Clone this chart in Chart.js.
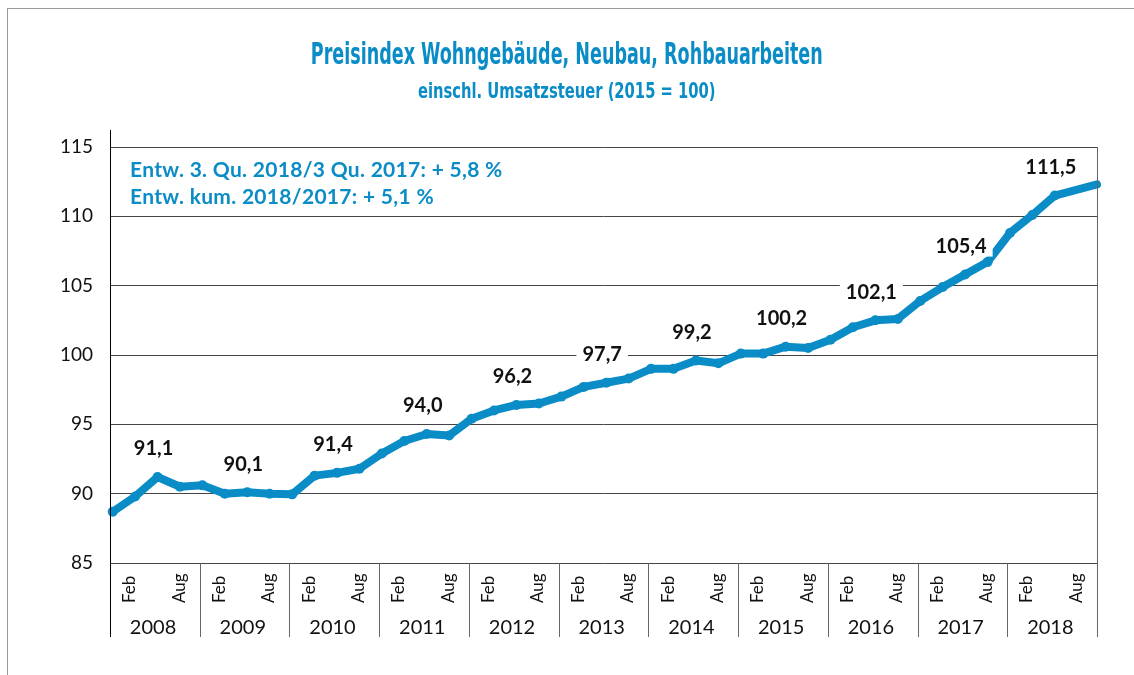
<!DOCTYPE html>
<html>
<head>
<meta charset="utf-8">
<script src="https://cdn.jsdelivr.net/npm/chart.js@4/dist/chart.umd.min.js"></script>
<style>
  html, body { margin: 0; padding: 0; background: #fff; overflow: hidden; }
  #wrap { position: relative; width: 1134px; height: 675px; }
  #frame { position: absolute; left: 7px; top: 8px; width: 1200px; height: 800px; border: 1px solid #9a9a9a; }
  canvas { position: absolute; left: 0; top: 0; }
  .ttl { position: absolute; left: 0; width: 1134px; text-align: center; color: #0a8cc6; font-family: "Liberation Sans Narrow", "DejaVu Sans Condensed", sans-serif; font-weight: bold; white-space: nowrap; }
  .ttl span { display: inline-block; }
  #t1 { top: 36px; font-size: 30px; }
  #t1 span { transform: scaleX(0.65); }
  #t2 { top: 79px; font-size: 21px; }
  #t2 span { transform: scaleX(0.78); }
  .note { position: absolute; left: 130px; color: #0a8cc6; font-family: Lato, sans-serif; font-weight: bold; font-size: 21px; letter-spacing: 0.3px; white-space: nowrap; }
</style>
</head>
<body>
<div id="wrap">
  <div id="frame"></div>
  <canvas id="chart" width="1134" height="675"></canvas>
  <div class="ttl" id="t1"><span>Preisindex Wohngebäude, Neubau, Rohbauarbeiten</span></div>
  <div class="ttl" id="t2"><span>einschl. Umsatzsteuer (2015 = 100)</span></div>
  <div class="note" style="top:156px">Entw. 3. Qu. 2018/3 Qu. 2017: + 5,8 %</div>
  <div class="note" style="top:183px">Entw. kum. 2018/2017: + 5,1 %</div>
</div>
<script>
// Jahre und Monatsbeschriftung der x-Achse
var years = [2008, 2009, 2010, 2011, 2012, 2013, 2014, 2015, 2016, 2017, 2018];
var months = ['Feb', 'Aug'];

// Quartalswerte Feb/Mai/Aug/Nov, 2008 bis Aug 2018, dazu der Endpunkt am Rand
var indexValues = [
  88.7, 89.8, 91.2, 90.5,
  90.6, 90.0, 90.1, 90.0,
  89.95, 91.3, 91.5, 91.8,
  92.9, 93.8, 94.3, 94.2,
  95.4, 96.0, 96.4, 96.5,
  97.0, 97.7, 98.0, 98.3,
  99.0, 99.0, 99.6, 99.4,
  100.1, 100.1, 100.6, 100.5,
  101.1, 102.0, 102.5, 102.6,
  103.9, 104.9, 105.8, 106.7,
  108.8, 110.1, 111.5
];
var endValue = 112.3;

// Jahreswerte, über dem August-Punkt jedes Jahres
var yearLabels = ['91,1', '90,1', '91,4', '94,0', '96,2', '97,7', '99,2', '100,2', '102,1', '105,4', '111,5'];

var yTicks = [85, 90, 95, 100, 105, 110, 115];

var blue = '#0a8cc6';

var points = indexValues.map(function (v, i) {
  return { x: years[0] + 0.03 + i * 0.25, y: v };
});
points.push({ x: years[years.length - 1] + 1, y: endValue });

var deco = {
  id: 'deco',
  afterDatasetsDraw: function (chart) {
    var ctx = chart.ctx;
    var xs = chart.scales.x, ys = chart.scales.y;
    var area = chart.chartArea;
    ctx.save();

    // Achsenlinien und Jahrestrenner
    ctx.lineWidth = 1;
    ctx.strokeStyle = '#000';
    ctx.beginPath();
    ctx.moveTo(area.left + 0.5, 130);
    ctx.lineTo(area.left + 0.5, 637);
    ctx.stroke();
    ctx.strokeStyle = '#666';
    for (var k = 1; k <= years.length; k++) {
      var px = Math.round(xs.getPixelForValue(years[0] + k)) + 0.5;
      ctx.beginPath();
      ctx.moveTo(px, k == years.length ? area.top : area.bottom);
      ctx.lineTo(px, 637);
      ctx.stroke();
    }

    // Monate und Jahre
    ctx.fillStyle = '#111';
    years.forEach(function (yr) {
      ctx.font = '17px Lato, sans-serif';
      [0.22, 0.77].forEach(function (off, m) {
        ctx.save();
        ctx.translate(xs.getPixelForValue(yr + off), 603);
        ctx.rotate(-Math.PI / 2);
        ctx.textAlign = 'left';
        ctx.textBaseline = 'middle';
        ctx.fillText(months[m], 0, 0);
        ctx.restore();
      });
      ctx.font = '20px Lato, sans-serif';
      ctx.textAlign = 'center';
      ctx.textBaseline = 'middle';
      ctx.fillText(String(yr), xs.getPixelForValue(yr + 0.48), 628);
    });

    // Jahreswerte über der Linie
    ctx.font = 'bold 20px Lato, sans-serif';
    ctx.textAlign = 'center';
    ctx.textBaseline = 'middle';
    yearLabels.forEach(function (lbl, k) {
      var p = points[k * 4 + 2];
      var lx = xs.getPixelForValue(p.x) - 4;
      var ly = ys.getPixelForValue(p.y) - 28;
      var w = ctx.measureText(lbl).width;
      ctx.fillStyle = '#fff';
      ctx.fillRect(lx - w / 2 - 6, ly - 10, w + 12, 20);
      ctx.fillStyle = '#111';
      ctx.fillText(lbl, lx, ly);
    });
    ctx.restore();
  }
};

new Chart(document.getElementById('chart'), {
  type: 'line',
  data: {
    datasets: [{
      data: points,
      borderColor: blue,
      backgroundColor: blue,
      borderWidth: 8,
      borderJoinStyle: 'round',
      borderCapStyle: 'round',
      pointRadius: points.map(function (p, i) { return i == points.length - 1 ? 0 : 5; }),
      pointBorderWidth: 0,
      pointBackgroundColor: blue,
      tension: 0,
      clip: false
    }]
  },
  options: {
    responsive: false,
    devicePixelRatio: 1,
    animation: false,
    layout: { padding: { top: 147, left: 0, right: 37, bottom: 112 } },
    plugins: { legend: { display: false }, tooltip: { enabled: false } },
    scales: {
      x: {
        type: 'linear',
        display: false,
        min: years[0],
        max: years[years.length - 1] + 1
      },
      y: {
        min: yTicks[0],
        max: yTicks[yTicks.length - 1],
        afterBuildTicks: function (scale) {
          scale.ticks = yTicks.map(function (v) { return { value: v }; });
        },
        afterFit: function (scale) { scale.width = 110; },
        border: { display: false },
        grid: { color: '#444', lineWidth: 1, drawTicks: false },
        ticks: {
          padding: 17,
          color: '#111',
          font: { family: 'Lato', size: 19 }
        }
      }
    }
  },
  plugins: [deco]
});
</script>
</body>
</html>
